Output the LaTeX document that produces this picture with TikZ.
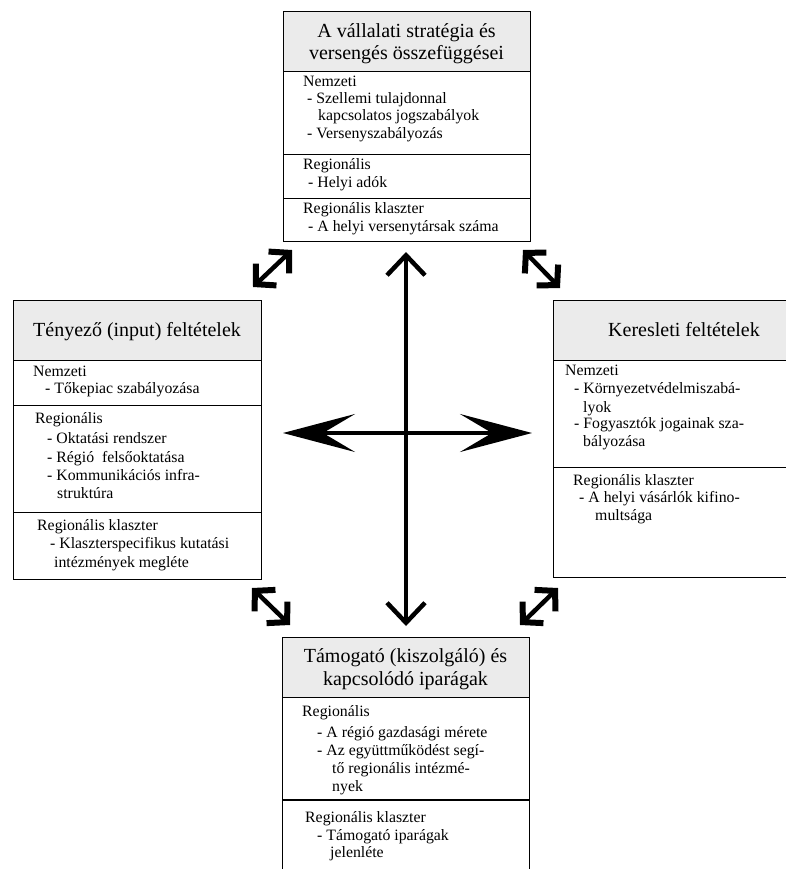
\documentclass[tikz,border=0pt]{standalone}
\usepackage{fontspec}
\setmainfont{Liberation Serif}
\usetikzlibrary{arrows.meta}
\definecolor{hdrgray}{HTML}{EBEBEB}
\newcommand\hdrfont{\fontsize{20}{22}\selectfont}
\newcommand\bodyfont{\fontsize{15.8}{17.5}\selectfont}
\newcommand\tl[4]{\node[txt] (#1) at (#2,#3) {#4};}
\newcommand\hl[4]{\node[htxt] (#1) at (#2,#3) {#4};}
\begin{document}
\begin{tikzpicture}[x=1pt,y=-1pt,
  box/.style={draw, line width=1pt, inner sep=0pt, anchor=north west, fill=white},
  hdr/.style={box, fill=hdrgray},
  txt/.style={anchor=base west, inner sep=0pt, font=\bodyfont},
  htxt/.style={anchor=base, inner sep=0pt, font=\hdrfont},
  rule/.style={line width=1pt},
  cross/.style={line width=4pt},
  diag/.style={line width=4.5pt, {Straight Barb[length=14pt,width=30pt,line width=6pt]}-{Straight Barb[length=14pt,width=30pt,line width=6pt]}}
]
\fill[white] (0,0) rectangle (786,869);
\useasboundingbox (0,0) rectangle (786,869);

% ---------- top box ----------
\node[box, minimum width=247pt, minimum height=230pt] (T) at (283,11) {};
\node[hdr, minimum width=247pt, minimum height=60pt] (Th) at (283,11) {};
\draw[rule] (283,155) -- (530,155);
\draw[rule] (283,198) -- (530,198);
\hl{th1}{406.5}{38}{A vállalati stratégia és}
\hl{th2}{406.5}{60}{versengés összefüggései}
\tl{t1}{303}{87}{Nemzeti}
\tl{t2}{307}{104}{- Szellemi tulajdonnal}
\tl{t3}{318}{121}{kapcsolatos jogszabályok}
\tl{t4}{307}{139}{- Versenyszabályozás}
\tl{t5}{303}{170}{Regionális}
\tl{t6}{308}{187}{- Helyi adók}
\tl{t7}{303}{213}{Regionális klaszter}
\tl{t8}{308}{231}{- A helyi versenytársak száma}

% ---------- left box ----------
\node[box, minimum width=248pt, minimum height=279pt] (L) at (13,300) {};
\node[hdr, minimum width=248pt, minimum height=60pt] (Lh) at (13,300) {};
\draw[rule] (13,405) -- (261,405);
\draw[rule] (13,512) -- (261,512);
\hl{lh1}{137}{336}{Tényező (input) feltételek}
\tl{l1}{33}{376}{Nemzeti}
\tl{l2}{45}{393}{- Tőkepiac szabályozása}
\tl{l3}{35}{423}{Regionális}
\tl{l4}{47}{443}{- Oktatási rendszer}
\tl{l5}{47}{462}{- Régió\ \ felsőoktatása}
\tl{l6}{47}{480}{- Kommunikációs infra-}
\tl{l7}{57}{498}{struktúra}
\tl{l8}{37}{530}{Regionális klaszter}
\tl{l9}{50}{548}{- Klaszterspecifikus kutatási}
\tl{l10}{54}{567}{intézmények megléte}

% ---------- right box ----------
\node[box, minimum width=250pt, minimum height=277pt] (R) at (553,300) {};
\node[hdr, minimum width=250pt, minimum height=60pt] (Rh) at (553,300) {};
\draw[rule] (553,467) -- (786,467);
\hl{rh1}{684}{336}{Keresleti feltételek}
\tl{r1}{565}{375}{Nemzeti}
\tl{r2}{574}{393}{- Környezetvédelmiszabá-}
\tl{r3}{583}{412}{lyok}
\tl{r4}{574}{428}{- Fogyasztók jogainak sza-}
\tl{r5}{583}{446}{bályozása}
\tl{r6}{573}{485}{Regionális klaszter}
\tl{r7}{579}{502}{- A helyi vásárlók kifino-}
\tl{r8}{595}{520}{multsága}

% ---------- bottom box ----------
\node[box, minimum width=247pt, minimum height=250pt] (B) at (282,637) {};
\node[hdr, minimum width=247pt, minimum height=60pt] (Bh) at (282,637) {};
\draw[line width=2pt] (282,800) -- (529,800);
\hl{bh1}{405.5}{662}{Támogató (kiszolgáló) és}
\hl{bh2}{405.5}{685}{kapcsolódó iparágak}
\tl{b1}{302}{716}{Regionális}
\tl{b2}{317}{737}{- A régió gazdasági mérete}
\tl{b3}{317}{755}{- Az együttműködést segí-}
\tl{b4}{332}{773}{tő regionális intézmé-}
\tl{b5}{332}{791}{nyek}
\tl{b6}{305}{822}{Regionális klaszter}
\tl{b7}{317}{840}{- Támogató iparágak}
\tl{b8}{330}{857}{jelenléte}

% ---------- central cross ----------
\coordinate (vt) at (406,252);
\coordinate (vb) at (406,626);
\coordinate (hL) at (283,433);
\coordinate (hR) at (532,433);
\draw[cross, {Straight Barb[length=20pt,width=38pt,line width=4.5pt]}-{Straight Barb[length=20pt,width=38pt,line width=4.5pt]}] (vt) -- (vb);
\draw[cross, {Stealth[length=72pt,width=38pt,inset=32pt]}-{Stealth[length=72pt,width=38pt,inset=32pt]}] (hL) -- (hR);

% ---------- diagonal arrows ----------
\coordinate (tl1) at (253,287); \coordinate (tl2) at (292,250);
\coordinate (tr1) at (523,250); \coordinate (tr2) at (560,288);
\coordinate (bl1) at (252,588); \coordinate (bl2) at (290,625);
\coordinate (br1) at (520,625); \coordinate (br2) at (558,588);
\draw[diag] (tl1) -- (tl2);
\draw[diag] (tr1) -- (tr2);
\draw[diag] (bl1) -- (bl2);
\draw[diag] (br1) -- (br2);
\end{tikzpicture}
\end{document}
